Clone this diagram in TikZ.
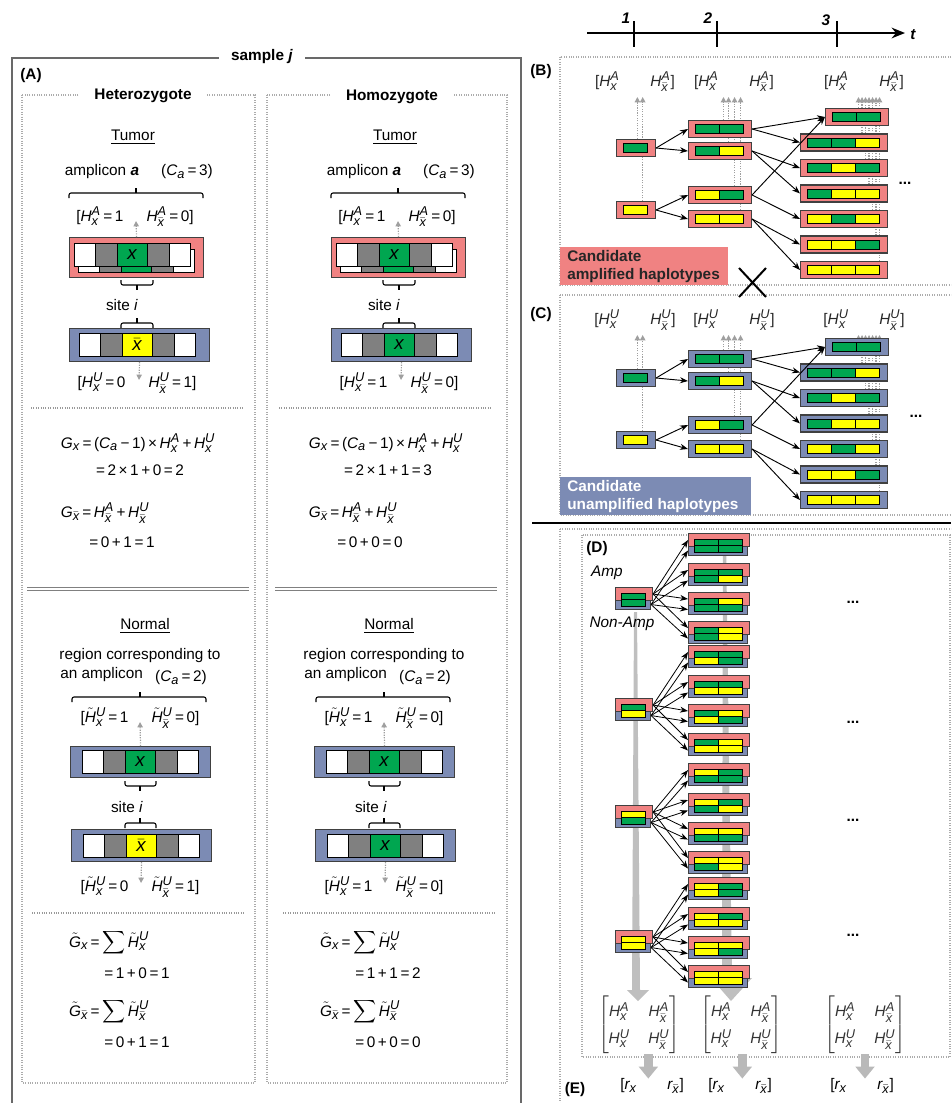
\documentclass[tikz,border=0pt]{standalone}
\usepackage{amsmath}
\usepackage{fontspec}
\setmainfont{Liberation Sans}
\usepackage[italic]{mathastext}
\usetikzlibrary{arrows.meta}
\pgfdeclarelayer{bg}
\pgfsetlayers{bg,main}

\definecolor{ampred}{RGB}{240,130,130}
\definecolor{unblue}{RGB}{124,139,180}
\definecolor{hgreen}{RGB}{0,166,80}
\definecolor{hyellow}{RGB}{255,255,0}
\definecolor{hgray}{RGB}{128,128,128}
\definecolor{framegray}{RGB}{105,105,105}

\tikzset{
  px/.style 2 args={minimum width=(#1)*0.75pt, minimum height=(#2)*0.75pt, inner sep=0pt, anchor=north west},
  cell/.style={draw=black, line width=0.6pt},
  redbox/.style={draw=black!75, fill=ampred, line width=0.8pt},
  bluebox/.style={draw=black!75, fill=unblue, line width=0.8pt},
  dotarrow/.style={draw=gray!75, densely dotted, line width=0.9pt, -{Triangle[length=4pt,width=4pt]}},
  haparrow/.style={draw=black, line width=0.7pt, -{Stealth[length=6pt,width=4.5pt]}},
  panel/.style={draw=gray!65, densely dotted, line width=0.8pt},
  sepline/.style={draw=gray!80, densely dotted, line width=0.8pt},
  txt/.style={inner sep=0pt, font=\fontsize{11.5}{14}\selectfont},
  lbl/.style={inner sep=0pt, font=\fontsize{11.5}{14}\selectfont\bfseries},
  bracepath/.style={draw=black, line width=0.8pt, rounded corners=1.5pt},
  wedge/.style={fill=gray!50},
  thickarrow/.style={draw=gray!55, line width=6.5pt, -{Triangle[length=9pt,width=14pt]}},
}
\newcommand\eq{\,=\,}
\newcommand\pl{\,+\,}
\newcommand\gap{\quad\enspace}

% five-cell strip: x, y top, centre colour, centre label, name
\newcommand\fivecells[5]{%
  \draw[cell, fill=white] (#1,#2) rectangle ++(21,23);
  \draw[cell, fill=hgray] (#1+21,#2) rectangle ++(22,23);
  \draw[cell, fill=#3] (#1+43,#2) rectangle ++(30,23);
  \draw[cell, fill=hgray] (#1+73,#2) rectangle ++(22,23);
  \draw[cell, fill=white] (#1+95,#2) rectangle ++(21,23);
  \node[inner sep=0pt, font=\fontsize{14}{14}\selectfont] (#5) at (#1+58,#2+11.5) {#4};
}
% square braces
\newcommand\brUp[4]{%
  \draw[bracepath] (#1,#3+5) -- (#1,#3) -- (#2,#3) -- (#2,#3+5);
  \draw[bracepath] (#4,#3) -- (#4,#3-5);
}
\newcommand\brDown[4]{%
  \draw[bracepath] (#1,#3-5) -- (#1,#3) -- (#2,#3) -- (#2,#3-5);
  \draw[bracepath] (#4,#3) -- (#4,#3+5);
}

\newcommand\tumorpart[4]{%
  \node[txt] (#1tum) at (133,137) {\underline{Tumor}};
  \node[txt] (#1amp) at (102,172) {amplicon \textbf{\textit{a}}};
  \node[txt] (#1ca) at (187,172) {($C_a$\eq 3)};
  \brUp{69}{203}{193}{136}
  \node[txt] (#1ha) at (135,217) {[$H_x^A$\eq 1\gap $H_{\bar{x}}^A$\eq 0]};
  \node[redbox, px={134}{40}] (#1rb) at (69,237) {};
  \fivecells{78}{249}{hgreen}{$x$}{#1bk}
  \fivecells{74}{243}{hgreen}{$x$}{#1fr}
  \coordinate (#1hat) at (136,221);
  \draw[dotarrow] (#1rb.north) -- (#1hat);
  \brDown{121}{153}{285}{137}
  \node[txt] (#1site) at (122,305) {site \textit{i}};
  \brUp{121}{153}{323}{137}
  \node[bluebox, px={140}{33}] (#1bb) at (69,328) {};
  \fivecells{79}{333}{#2}{#3}{#1bc}
  \coordinate (#1hut) at (139,380);
  \draw[dotarrow] (#1bb.south) -- (#1hut);
  \node[txt] (#1hu) at (137,383) {#4};
}
\newcommand\formulapart[3]{%
  \draw[sepline] (31,408) -- (244,408);
  \node[txt] (#1g1) at (138,443) {$G_x$\eq($C_a$\,−\,1)\,×\,$H_x^A$\pl$H_x^U$};
  \node[txt] (#1g2) at (140,470) {#2};
  \node[txt] (#1g3) at (105,513) {$G_{\bar{x}}$\eq$H_{\bar{x}}^A$\pl$H_{\bar{x}}^U$};
  \node[txt] (#1g4) at (122,542) {#3};
  \draw[draw=gray, line width=0.9pt, double=white, double distance=1.6pt] (27,589) -- (249,589);
}
\newcommand\normalpart[5]{%
  \node[txt] (#1nor) at (145,626) {\underline{Normal}};
  \node[txt] (#1reg) at (140,656) {region corresponding to};
  \node[txt, anchor=west] (#1reg2) at (60,675) {an amplicon};
  \node[txt] (#1ca2) at (181,678) {($C_a$\eq 2)};
  \brUp{72}{206}{697}{140}
  \node[txt] (#1nh1) at (140,718) {#2};
  \node[bluebox, px={140}{31}] (#1nb1) at (70,746) {};
  \fivecells{82}{750}{hgreen}{$x$}{#1nc1}
  \coordinate (#1nt1) at (140,722);
  \draw[dotarrow] (#1nb1.north) -- (#1nt1);
  \brDown{125}{156}{786}{140}
  \node[txt] (#1site2) at (127,807) {site \textit{i}};
  \brUp{125}{156}{823}{140}
  \node[bluebox, px={140}{32}] (#1nb2) at (71,829) {};
  \fivecells{83}{834}{#3}{#4}{#1nc2}
  \coordinate (#1nt2) at (141,883);
  \draw[dotarrow] (#1nb2.south) -- (#1nt2);
  \node[txt] (#1nh2) at (140,887) {#5};
}
\newcommand\sumpart[3]{%
  \draw[sepline] (32,913) -- (245,913);
  \node[txt] (#1s1) at (109,943) {$\tilde{G}_x$\eq$\displaystyle\sum\tilde{H}_x^U$};
  \node[txt] (#1s2) at (137,973) {#2};
  \node[txt] (#1s3) at (109,1012) {$\tilde{G}_{\bar{x}}$\eq$\displaystyle\sum\tilde{H}_{\bar{x}}^U$};
  \node[txt] (#1s4) at (137,1042) {#3};
}

% single-row haplotype box: name, style, x0 of cells, centre y, n cells, colours
\newcommand\hap[6]{%
  \node[#2, inner sep=0pt, minimum width={(24*#5+15)*0.75pt}, minimum height={17*0.75pt}, anchor=west] (#1) at ({#3-7},#4) {};
  \foreach \clr [count=\ii] in {#6} {\draw[cell, fill=\clr] ({#3+24*(\ii-1)},{#4-4.5}) rectangle ++(24,9);}
}
% tree of candidate haplotypes: prefix, box style, letter, header offset
\newcommand\haptree[4]{%
  \coordinate (#1top) at (0,97+#4);
  \node[txt, text=black!85] (#1h1) at (635,82+#4) {[$H_x^{#3}$\qquad$H_{\bar{x}}^{#3}$]};
  \node[txt, text=black!85] (#1h2) at (734,82+#4) {[$H_x^{#3}$\qquad$H_{\bar{x}}^{#3}$]};
  \node[txt, text=black!85] (#1h3) at (864,82+#4) {[$H_x^{#3}$\qquad$H_{\bar{x}}^{#3}$]};
  \hap{#1la}{#2}{623}{148}{1}{hgreen}
  \hap{#1lb}{#2}{623}{210}{1}{hyellow}
  \hap{#1ma}{#2}{695}{129}{2}{hgreen,hgreen}
  \hap{#1mb}{#2}{695}{151}{2}{hgreen,hyellow}
  \hap{#1mc}{#2}{695}{195}{2}{hyellow,hgreen}
  \hap{#1md}{#2}{695}{219}{2}{hyellow,hyellow}
  \hap{#1na}{#2}{832}{117}{2}{hgreen,hgreen}
  \hap{#1nb}{#2}{807}{142.5}{3}{hgreen,hgreen,hyellow}
  \hap{#1nc}{#2}{807}{168}{3}{hgreen,hyellow,hgreen}
  \hap{#1nd}{#2}{807}{193.5}{3}{hgreen,hyellow,hyellow}
  \hap{#1ne}{#2}{807}{219}{3}{hyellow,hgreen,hyellow}
  \hap{#1nf}{#2}{807}{244.5}{3}{hyellow,hyellow,hgreen}
  \hap{#1ng}{#2}{807}{270}{3}{hyellow,hyellow,hyellow}
  \draw[haparrow] (#1la.east) -- (#1ma.west);
  \draw[haparrow] (#1la.east) -- (#1mb.west);
  \draw[haparrow] (#1lb.east) -- (#1mc.west);
  \draw[haparrow] (#1lb.east) -- (#1md.west);
  \draw[haparrow] (#1ma.east) -- (#1na.west);
  \draw[haparrow] (#1ma.east) -- (#1nb.west);
  \draw[haparrow] (#1mb.east) -- (#1nc.west);
  \draw[haparrow] (#1mb.east) -- (#1nd.west);
  \draw[haparrow] (#1mc.east) -- (#1na.west);
  \draw[haparrow] (#1mc.east) -- (#1ne.west);
  \draw[haparrow] (#1md.east) -- (#1nf.west);
  \draw[haparrow] (#1md.east) -- (#1ng.west);
  \begin{pgfonlayer}{bg}
    \draw[dotarrow] ([xshift=1pt]#1la.north) -- ([xshift=1pt]#1la.north |- #1top);
    \draw[dotarrow] ([xshift=5pt]#1lb.north) -- ([xshift=5pt]#1lb.north |- #1top);
    \draw[dotarrow] ([xshift=2.6pt]#1ma.north) -- ([xshift=2.6pt]#1ma.north |- #1top);
    \draw[dotarrow] ([xshift=6.4pt]#1mb.north) -- ([xshift=6.4pt]#1mb.north |- #1top);
    \draw[dotarrow] ([xshift=10.9pt]#1mc.north) -- ([xshift=10.9pt]#1mc.north |- #1top);
    \draw[dotarrow] ([xshift=15.4pt]#1md.north) -- ([xshift=15.4pt]#1md.north |- #1top);
    \draw[dotarrow] ([xshift=1.1pt]#1na.north) -- ([xshift=1.1pt]#1na.north |- #1top);
    \draw[dotarrow] ([xshift=13.5pt]#1nb.north) -- ([xshift=13.5pt]#1nb.north |- #1top);
    \draw[dotarrow] ([xshift=16.1pt]#1nc.north) -- ([xshift=16.1pt]#1nc.north |- #1top);
    \draw[dotarrow] ([xshift=18.75pt]#1nd.north) -- ([xshift=18.75pt]#1nd.north |- #1top);
    \draw[dotarrow] ([xshift=21.4pt]#1ne.north) -- ([xshift=21.4pt]#1ne.north |- #1top);
    \draw[dotarrow] ([xshift=24pt]#1nf.north) -- ([xshift=24pt]#1nf.north |- #1top);
    \draw[dotarrow] ([xshift=26.6pt]#1ng.north) -- ([xshift=26.6pt]#1ng.north |- #1top);
  \end{pgfonlayer}
}
% two-row (amp / non-amp) haplotype box: name, x0, y top, n, top colours, bottom colours
\newcommand\dhap[6]{%
  \node[bluebox, px={24*#4+11}{10}] (#1u) at (#2-6,#3+12) {};
  \node[redbox, px={24*#4+13}{13}] (#1a) at (#2-6,#3) {};
  \foreach \clr [count=\ii] in {#5} {\draw[cell, fill=\clr] ({#2+24*(\ii-1)},{#3+6}) rectangle ++(24,6.5);}
  \foreach \clr [count=\ii] in {#6} {\draw[cell, fill=\clr] ({#2+24*(\ii-1)},{#3+12.5}) rectangle ++(24,6.5);}
}

\begin{document}
\begin{tikzpicture}[x=0.75pt, y=-0.75pt]
\useasboundingbox (0,0) rectangle (951,1103);
\clip (0,0) rectangle (951,1103);

% ================= panel A =================
\draw[draw=framegray, line width=1.5pt] (12,1115) -- (12,58) -- (521,58) -- (521,1115);
\draw[panel] (22,95) rectangle (255,1083);
\draw[panel] (267,95) rectangle (507,1083);
\node[lbl, fill=white, inner xsep=9pt] (samplej) at (262,57) {sample \textit{j}};
\node[lbl] (labA) at (31,76) {(A)};
\node[lbl, fill=white, inner xsep=11pt] (het) at (143,96) {Heterozygote};
\node[lbl, fill=white, inner xsep=11pt] (hom) at (392,97) {Homozygote};

\tumorpart{he}{hyellow}{$\bar{x}$}{[$H_x^U$\eq 0\gap $H_{\bar{x}}^U$\eq 1]}
\formulapart{he}{=\,2\,×\,1\,+\,0\,=\,2}{=\,0\,+\,1\,=\,1}
\normalpart{he}{[$\tilde{H}_x^U$\eq 1\gap $\tilde{H}_{\bar{x}}^U$\eq 0]}{hyellow}{$\bar{x}$}{[$\tilde{H}_x^U$\eq 0\gap $\tilde{H}_{\bar{x}}^U$\eq 1]}
\sumpart{he}{=\,1\,+\,0\,=\,1}{=\,0\,+\,1\,=\,1}

\begin{scope}[xshift=196.5pt]
\tumorpart{ho}{hgreen}{$x$}{[$H_x^U$\eq 1\gap $H_{\bar{x}}^U$\eq 0]}
\end{scope}
\begin{scope}[xshift=186pt]
\formulapart{ho}{=\,2\,×\,1\,+\,1\,=\,3}{=\,0\,+\,0\,=\,0}
\end{scope}
\begin{scope}[xshift=183pt]
\normalpart{ho}{[$\tilde{H}_x^U$\eq 1\gap $\tilde{H}_{\bar{x}}^U$\eq 0]}{hgreen}{$x$}{[$\tilde{H}_x^U$\eq 1\gap $\tilde{H}_{\bar{x}}^U$\eq 0]}
\end{scope}
\begin{scope}[xshift=188.25pt]
\sumpart{ho}{=\,1\,+\,1\,=\,2}{=\,0\,+\,0\,=\,0}
\end{scope}

% ================= time axis =================
\coordinate (ax0) at (587,33);
\coordinate (ax1) at (905,33);
\draw[line width=1.5pt, -{Stealth[length=10pt,width=8pt]}] (ax0) -- (ax1);
\foreach \tx in {634,717,837} {\draw[line width=1.2pt] (\tx,21) -- (\tx,47);}
\node[lbl, font=\fontsize{11.5}{14}\selectfont\bfseries\itshape] (tk1) at (626,18) {1};
\node[lbl, font=\fontsize{11.5}{14}\selectfont\bfseries\itshape] (tk2) at (708,18) {2};
\node[lbl, font=\fontsize{11.5}{14}\selectfont\bfseries\itshape] (tk3) at (826,20) {3};
\node[lbl, font=\fontsize{11.5}{14}\selectfont\bfseries\itshape] (tkt) at (913,35) {t};

% ================= panels B and C =================
\draw[panel] (560,57) rectangle (956,285);
\draw[panel] (560,295) rectangle (956,515);
\node[lbl] (labB) at (541,72) {(B)};
\node[lbl] (labC) at (541,315) {(C)};
\haptree{b}{redbox}{A}{0}
\begin{scope}[yshift=-172.5pt]
\haptree{c}{bluebox}{U}{8}
\end{scope}
\node[lbl] (dotsB) at (905,183) {...};
\node[lbl] (dotsC) at (916,416) {...};
\node[fill=ampred, px={168}{38}] (boxB) at (560,247) {};
\node[lbl, align=left, anchor=west, text=black!85] (boxBt) at (567,266.5) {Candidate\\amplified haplotypes};
\node[fill=unblue, px={191}{38}] (boxC) at (560,477) {};
\node[lbl, align=left, anchor=west, text=white] (boxCt) at (567,496.5) {Candidate\\unamplified haplotypes};
\draw[line width=1.5pt] (739,268) -- (766,297) (739,297) -- (766,268);

% ================= panels D and E =================
\draw[line width=1.5pt] (532,523) -- (951,523);
\draw[panel] (560,529) rectangle (956,1115);
\draw[panel] (582,535) rectangle (950,1057);
\node[lbl] (labD) at (597,549) {(D)};
\node[lbl] (labE) at (575,1090) {(E)};
\node[txt, font=\fontsize{11.5}{14}\selectfont\itshape] (amp) at (607,573) {Amp};
\node[txt, font=\fontsize{11.5}{14}\selectfont\itshape] (namp) at (622,624) {Non-Amp};

\begin{pgfonlayer}{bg}
\fill[wedge] (634,612) -- (637,612) -- (640,990) -- (649,990) -- (638,1001) -- (627,990) -- (632,990) -- cycle;
\fill[wedge] (723,537) -- (726,537) -- (732,978) -- (752,978) -- (731,1001) -- (711,978) -- (722,978) -- cycle;
\end{pgfonlayer}

\foreach \gi/\ya/\ca/\cb/\yb in {1/587/hgreen/hgreen/533, 2/698/hgreen/hyellow/645, 3/805/hyellow/hgreen/763, 4/930/hyellow/hyellow/877} {
  \dhap{d\gi}{621}{\ya}{1}{\ca}{\cb}
  \foreach \rr/\off/\ct/\cu in {1/0/hgreen/hgreen, 2/30/hgreen/hyellow, 3/59/hyellow/hgreen, 4/88/hyellow/hyellow} {
    \dhap{d\gi r\rr}{694}{\yb+\off}{2}{\ca,\ct}{\cb,\cu}
    \draw[haparrow, line width=0.6pt] (d\gi a.east) -- (d\gi r\rr a.west);
    \draw[haparrow, line width=0.6pt] (d\gi u.east) -- (d\gi r\rr u.west);
  }
}
\node[lbl] (dotsD1) at (853,602) {...};
\node[lbl] (dotsD2) at (853,722) {...};
\node[lbl] (dotsD3) at (853,820) {...};
\node[lbl] (dotsD4) at (853,935) {...};

\foreach \mx/\mn in {639/m1, 741/m2, 865/m3} {
  \node[txt, text=black!80] (\mn) at (\mx,1025) {\setlength\arraycolsep{7pt}\renewcommand\arraystretch{1.45}$\left[\begin{matrix} H_x^A & H_{\bar{x}}^A \\ H_x^U & H_{\bar{x}}^U\end{matrix}\right]$};
}
\node[txt] (r1) at (652,1086) {[$r_x$\qquad$r_{\bar{x}}$]};
\node[txt] (r2) at (740,1086) {[$r_x$\qquad$r_{\bar{x}}$]};
\node[txt] (r3) at (862,1086) {[$r_x$\qquad$r_{\bar{x}}$]};
\draw[thickarrow] ([xshift=7pt]m1.south) -- ([xshift=7pt]m1.south |- r1.north);
\draw[thickarrow] ([xshift=1pt]m2.south) -- ([xshift=1pt]m2.south |- r2.north);
\draw[thickarrow] (m3.south) -- (m3.south |- r3.north);
\end{tikzpicture}
\end{document}
